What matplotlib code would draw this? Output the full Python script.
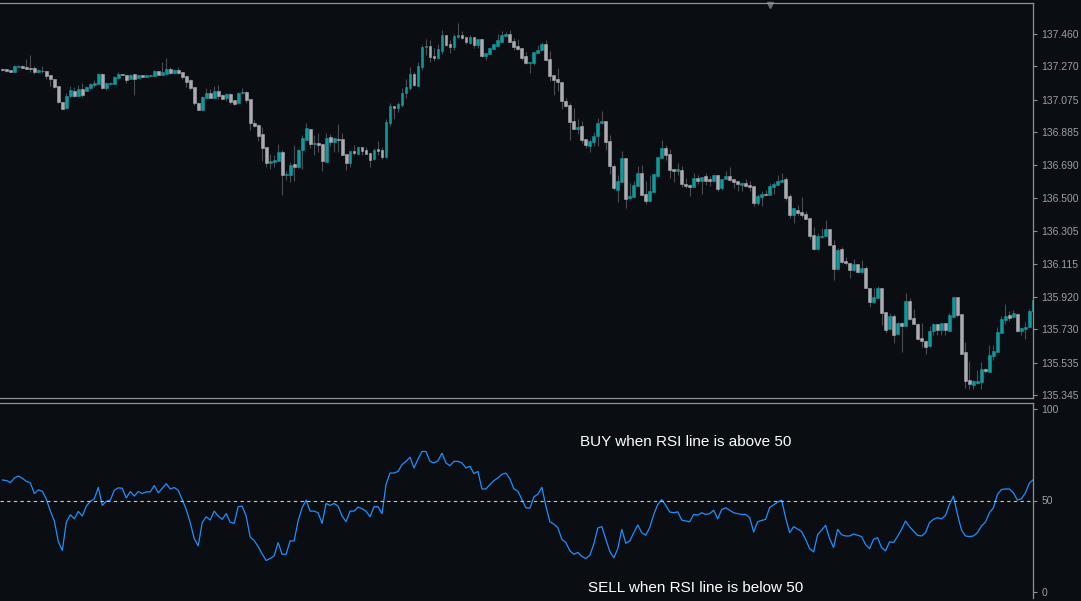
import numpy as np
import matplotlib
matplotlib.use("Agg")
import matplotlib.pyplot as plt

# USDJPY-like M5 candles
opens = [
    137.255, 137.255, 137.249, 137.239, 137.269, 137.273, 137.267, 137.259, 137.261, 137.234,
    137.245, 137.243, 137.220, 137.196, 137.155, 137.062, 137.026, 137.097, 137.128, 137.097,
    137.138, 137.128, 137.144, 137.161, 137.167, 137.226, 137.144, 137.169, 137.169, 137.202,
    137.226, 137.220, 137.196, 137.226, 137.204, 137.220, 137.210, 137.214, 137.216, 137.243,
    137.222, 137.226, 137.255, 137.232, 137.249, 137.237, 137.214, 137.191, 137.149, 137.056,
    137.017, 137.087, 137.114, 137.087, 137.128, 137.103, 137.085, 137.109, 137.070, 137.056,
    137.111, 137.120, 137.079, 136.939, 136.927, 136.874, 136.798, 136.706, 136.710, 136.716,
    136.769, 136.636, 136.636, 136.698, 136.681, 136.780, 136.839, 136.904, 136.818, 136.821,
    136.816, 136.710, 136.857, 136.829, 136.845, 136.845, 136.757, 136.706, 136.775, 136.759,
    136.798, 136.780, 136.763, 136.728, 136.788, 136.780, 136.741, 136.941, 137.038, 137.028,
    137.044, 137.114, 137.144, 137.226, 137.155, 137.267, 137.384, 137.390, 137.331, 137.319,
    137.360, 137.454, 137.401, 137.384, 137.442, 137.454, 137.442, 137.407, 137.442, 137.396,
    137.431, 137.331, 137.343, 137.372, 137.390, 137.413, 137.448, 137.460, 137.419, 137.390,
    137.378, 137.331, 137.292, 137.288, 137.349, 137.366, 137.401, 137.314, 137.220, 137.196,
    137.179, 137.068, 137.044, 136.950, 136.904, 136.921, 136.845, 136.804, 136.827, 136.862,
    136.939, 136.950, 136.833, 136.687, 136.546, 136.593, 136.734, 136.499, 136.505, 136.570,
    136.646, 136.523, 136.482, 136.534, 136.628, 136.734, 136.792, 136.757, 136.669, 136.657,
    136.663, 136.581, 136.577, 136.564, 136.616, 136.599, 136.628, 136.611, 136.599, 136.634,
    136.558, 136.611, 136.628, 136.611, 136.599, 136.575, 136.587, 136.575, 136.570, 136.470,
    136.505, 136.523, 136.517, 136.564, 136.575, 136.595, 136.611, 136.511, 136.402, 136.429,
    136.417, 136.405, 136.382, 136.283, 136.200, 136.269, 136.277, 136.318, 136.226, 136.083,
    136.200, 136.130, 136.119, 136.078, 136.113, 136.066, 136.089, 135.972, 135.890, 135.915,
    135.972, 135.831, 135.732, 135.808, 135.703, 135.767, 135.749, 135.896, 135.796, 135.763,
    135.679, 135.664, 135.632, 135.718, 135.761, 135.726, 135.767, 135.720, 135.804, 135.919,
    135.820, 135.598, 135.433, 135.406, 135.417, 135.423, 135.500, 135.482, 135.574, 135.599,
    135.710, 135.785, 135.814, 135.804, 135.822, 135.720, 135.732, 135.744, 135.837,
]
closes = [
    137.249, 137.245, 137.239, 137.273, 137.273, 137.263, 137.257, 137.257, 137.234, 137.249,
    137.241, 137.216, 137.193, 137.151, 137.064, 137.023, 137.097, 137.132, 137.097, 137.138,
    137.105, 137.149, 137.167, 137.175, 137.226, 137.144, 137.173, 137.175, 137.208, 137.226,
    137.220, 137.191, 137.220, 137.196, 137.220, 137.210, 137.220, 137.220, 137.243, 137.220,
    137.234, 137.255, 137.232, 137.249, 137.232, 137.210, 137.179, 137.144, 137.058, 137.017,
    137.091, 137.114, 137.087, 137.128, 137.097, 137.081, 137.109, 137.064, 137.052, 137.114,
    137.122, 137.075, 136.941, 136.921, 136.864, 136.794, 136.706, 136.716, 136.722, 136.769,
    136.636, 136.640, 136.693, 136.681, 136.780, 136.851, 136.909, 136.818, 136.821, 136.810,
    136.716, 136.851, 136.829, 136.851, 136.841, 136.753, 136.706, 136.775, 136.765, 136.798,
    136.776, 136.759, 136.722, 136.780, 136.776, 136.741, 136.946, 137.038, 137.028, 137.050,
    137.114, 137.149, 137.226, 137.161, 137.273, 137.384, 137.390, 137.327, 137.319, 137.372,
    137.454, 137.396, 137.384, 137.448, 137.454, 137.437, 137.413, 137.442, 137.396, 137.431,
    137.331, 137.349, 137.378, 137.401, 137.425, 137.454, 137.460, 137.413, 137.384, 137.372,
    137.319, 137.290, 137.296, 137.354, 137.366, 137.401, 137.308, 137.216, 137.191, 137.179,
    137.068, 137.038, 136.944, 136.904, 136.915, 136.839, 136.810, 136.833, 136.862, 136.939,
    136.950, 136.827, 136.687, 136.558, 136.599, 136.734, 136.493, 136.511, 136.575, 136.646,
    136.517, 136.482, 136.540, 136.640, 136.739, 136.792, 136.751, 136.663, 136.657, 136.669,
    136.581, 136.570, 136.566, 136.616, 136.599, 136.622, 136.599, 136.599, 136.634, 136.552,
    136.611, 136.628, 136.605, 136.593, 136.581, 136.587, 136.570, 136.566, 136.470, 136.511,
    136.523, 136.517, 136.570, 136.581, 136.599, 136.605, 136.497, 136.400, 136.441, 136.413,
    136.402, 136.378, 136.277, 136.200, 136.277, 136.277, 136.318, 136.224, 136.083, 136.195,
    136.124, 136.119, 136.078, 136.113, 136.066, 136.089, 135.972, 135.892, 135.919, 135.972,
    135.828, 135.726, 135.808, 135.697, 135.767, 135.749, 135.896, 135.790, 135.761, 135.673,
    135.662, 135.626, 135.720, 135.761, 135.726, 135.767, 135.726, 135.816, 135.919, 135.814,
    135.585, 135.429, 135.412, 135.429, 135.429, 135.500, 135.488, 135.580, 135.603, 135.714,
    135.790, 135.808, 135.798, 135.828, 135.720, 135.738, 135.744, 135.837, 135.902,
]
highs = [
    137.259, 137.257, 137.251, 137.275, 137.278, 137.276, 137.314, 137.337, 137.273, 137.253,
    137.273, 137.245, 137.222, 137.198, 137.157, 137.064, 137.112, 137.155, 137.151, 137.161,
    137.173, 137.153, 137.171, 137.191, 137.230, 137.230, 137.177, 137.181, 137.214, 137.234,
    137.228, 137.222, 137.224, 137.228, 137.222, 137.222, 137.222, 137.222, 137.249, 137.245,
    137.296, 137.319, 137.265, 137.255, 137.267, 137.239, 137.216, 137.194, 137.151, 137.060,
    137.095, 137.144, 137.138, 137.155, 137.161, 137.109, 137.116, 137.112, 137.073, 137.118,
    137.144, 137.124, 137.081, 136.956, 136.931, 136.913, 136.800, 136.755, 136.751, 136.814,
    136.780, 136.659, 136.712, 136.810, 136.784, 136.866, 136.939, 136.905, 136.868, 136.878,
    136.818, 136.882, 136.874, 136.853, 136.933, 136.878, 136.759, 136.776, 136.808, 136.806,
    136.800, 136.800, 136.765, 136.792, 136.833, 136.800, 136.960, 137.054, 137.040, 137.064,
    137.142, 137.194, 137.265, 137.235, 137.294, 137.396, 137.431, 137.425, 137.376, 137.401,
    137.483, 137.456, 137.425, 137.460, 137.524, 137.478, 137.444, 137.454, 137.444, 137.433,
    137.433, 137.351, 137.380, 137.403, 137.460, 137.478, 137.472, 137.483, 137.435, 137.431,
    137.380, 137.354, 137.298, 137.356, 137.396, 137.415, 137.425, 137.360, 137.222, 137.261,
    137.181, 137.083, 137.058, 137.026, 136.962, 136.950, 136.847, 136.847, 136.886, 136.968,
    137.009, 136.952, 136.868, 136.698, 136.634, 136.775, 136.736, 136.589, 136.599, 136.689,
    136.695, 136.599, 136.634, 136.642, 136.741, 136.839, 136.810, 136.786, 136.671, 136.706,
    136.687, 136.616, 136.579, 136.646, 136.634, 136.624, 136.646, 136.628, 136.640, 136.636,
    136.613, 136.657, 136.681, 136.613, 136.601, 136.595, 136.611, 136.597, 136.572, 136.523,
    136.540, 136.546, 136.587, 136.593, 136.634, 136.644, 136.624, 136.523, 136.443, 136.458,
    136.507, 136.425, 136.384, 136.331, 136.292, 136.324, 136.370, 136.320, 136.253, 136.204,
    136.210, 136.156, 136.120, 136.140, 136.115, 136.136, 136.101, 135.974, 135.970, 135.986,
    135.974, 135.833, 135.824, 135.818, 135.771, 135.771, 135.941, 135.911, 135.851, 135.765,
    135.767, 135.665, 135.749, 135.765, 135.763, 135.769, 135.769, 135.824, 135.919, 135.921,
    135.822, 135.656, 135.544, 135.431, 135.492, 135.541, 135.501, 135.640, 135.638, 135.745,
    135.806, 135.878, 135.837, 135.843, 135.824, 135.740, 135.775, 135.847, 135.911,
]
lows = [
    137.245, 137.239, 137.237, 137.237, 137.267, 137.261, 137.253, 137.239, 137.224, 137.230,
    137.230, 137.198, 137.157, 137.146, 137.054, 137.019, 137.023, 137.093, 137.093, 137.093,
    137.093, 137.124, 137.136, 137.151, 137.165, 137.138, 137.132, 137.167, 137.167, 137.200,
    137.218, 137.175, 137.194, 137.105, 137.202, 137.208, 137.208, 137.210, 137.214, 137.218,
    137.220, 137.224, 137.224, 137.226, 137.228, 137.194, 137.151, 137.132, 137.046, 137.015,
    137.015, 137.085, 137.083, 137.085, 137.079, 137.077, 137.068, 137.048, 137.046, 137.052,
    137.109, 137.058, 136.898, 136.917, 136.835, 136.716, 136.683, 136.671, 136.683, 136.714,
    136.519, 136.605, 136.595, 136.599, 136.673, 136.671, 136.837, 136.794, 136.753, 136.767,
    136.659, 136.708, 136.806, 136.771, 136.771, 136.751, 136.663, 136.683, 136.753, 136.757,
    136.751, 136.757, 136.683, 136.722, 136.751, 136.726, 136.739, 136.923, 136.962, 137.005,
    137.030, 137.087, 137.134, 137.155, 137.153, 137.249, 137.337, 137.296, 137.304, 137.314,
    137.343, 137.390, 137.351, 137.366, 137.437, 137.431, 137.401, 137.401, 137.378, 137.378,
    137.327, 137.308, 137.341, 137.370, 137.388, 137.411, 137.446, 137.411, 137.366, 137.366,
    137.308, 137.284, 137.232, 137.278, 137.347, 137.364, 137.302, 137.185, 137.105, 137.126,
    137.021, 137.034, 136.839, 136.902, 136.874, 136.823, 136.790, 136.771, 136.806, 136.806,
    136.933, 136.778, 136.640, 136.546, 136.475, 136.591, 136.443, 136.488, 136.503, 136.568,
    136.515, 136.464, 136.480, 136.533, 136.620, 136.732, 136.722, 136.616, 136.595, 136.636,
    136.566, 136.560, 136.511, 136.562, 136.581, 136.523, 136.575, 136.570, 136.597, 136.542,
    136.546, 136.609, 136.599, 136.560, 136.540, 136.540, 136.562, 136.542, 136.454, 136.458,
    136.452, 136.515, 136.515, 136.523, 136.573, 136.593, 136.488, 136.384, 136.351, 136.400,
    136.386, 136.374, 136.261, 136.197, 136.199, 136.267, 136.275, 136.218, 136.019, 136.081,
    136.116, 136.107, 136.029, 136.072, 136.058, 136.058, 135.970, 135.863, 135.882, 135.914,
    135.755, 135.706, 135.730, 135.652, 135.701, 135.599, 135.748, 135.785, 135.759, 135.667,
    135.626, 135.587, 135.628, 135.697, 135.697, 135.697, 135.697, 135.718, 135.802, 135.804,
    135.583, 135.388, 135.382, 135.382, 135.408, 135.378, 135.476, 135.480, 135.550, 135.598,
    135.709, 135.761, 135.781, 135.796, 135.712, 135.697, 135.673, 135.742, 135.835,
]
rsi = [
    61.2, 60.9, 59.8, 62.3, 63.4, 62.1, 60.5, 59.6, 53.8, 55.8,
    55.1, 50.7, 44.2, 38.8, 27.4, 22.8, 38.2, 42.2, 40.0, 44.0,
    41.5, 46.9, 49.6, 50.9, 57.2, 47.3, 49.6, 50.2, 55.6, 56.9,
    56.7, 51.4, 54.9, 52.4, 54.9, 53.8, 54.7, 54.7, 58.2, 54.2,
    56.7, 59.2, 56.3, 57.1, 55.6, 50.5, 45.1, 37.9, 29.2, 25.2,
    37.9, 41.1, 39.3, 44.2, 41.5, 39.7, 42.8, 38.2, 37.5, 46.6,
    46.9, 41.5, 30.1, 28.1, 24.8, 20.8, 17.2, 18.3, 19.7, 27.0,
    20.6, 20.6, 27.9, 27.9, 38.8, 46.0, 50.2, 44.2, 44.2, 43.3,
    37.5, 48.4, 47.3, 48.4, 46.9, 41.5, 38.4, 44.2, 44.2, 46.4,
    45.5, 44.2, 41.1, 46.6, 46.6, 42.8, 58.7, 65.0, 65.0, 65.9,
    69.6, 71.4, 73.7, 67.8, 72.6, 76.8, 76.8, 71.4, 70.5, 71.7,
    75.9, 70.5, 69.0, 71.4, 71.4, 70.5, 67.8, 68.7, 64.7, 65.9,
    56.3, 56.3, 58.7, 60.9, 62.3, 64.3, 65.0, 61.8, 56.3, 55.1,
    50.5, 46.0, 45.8, 52.0, 53.4, 57.2, 46.9, 38.4, 37.1, 35.1,
    28.8, 27.0, 22.5, 20.6, 21.6, 19.4, 18.3, 20.1, 26.1, 35.0,
    35.7, 28.8, 22.1, 18.7, 23.7, 34.2, 26.6, 27.9, 32.4, 36.6,
    32.4, 31.0, 35.3, 42.4, 47.8, 50.5, 47.3, 43.7, 43.3, 43.8,
    39.3, 38.8, 38.4, 42.4, 42.0, 43.3, 42.4, 42.8, 44.7, 40.0,
    45.1, 46.0, 44.7, 43.3, 42.8, 42.4, 42.4, 40.6, 32.8, 38.4,
    39.1, 39.7, 46.2, 47.6, 49.1, 50.2, 40.6, 32.4, 35.7, 34.4,
    33.0, 28.8, 23.7, 21.9, 31.3, 33.9, 36.4, 29.2, 24.3, 34.2,
    31.3, 30.6, 30.6, 31.7, 31.0, 30.3, 25.9, 23.7, 28.8, 29.7,
    24.3, 22.5, 27.4, 27.0, 30.3, 34.2, 38.8, 35.7, 33.3, 31.0,
    30.6, 32.4, 37.9, 39.7, 40.6, 40.0, 41.8, 47.8, 52.4, 42.4,
    33.9, 30.6, 30.3, 30.6, 32.4, 36.0, 38.2, 43.3, 46.0, 53.3,
    56.0, 56.3, 56.3, 54.2, 50.2, 50.9, 54.2, 59.6, 61.4,
]
price_ticks = [135.345, 135.535, 135.730, 135.920, 136.115, 136.305,
               136.500, 136.690, 136.885, 137.075, 137.270, 137.460]
rsi_ticks = [0, 50, 100]
rsi_level = 50
buy_text = "BUY when RSI line is above 50"
sell_text = "SELL when RSI line is below 50"

bg = "#0a0d11"
bull = "#10989b"
bear = "#aaabb1"
wick = "#4a4c52"
frame = "#8e9196"
label_col = "#9aa0a8"

o = np.array(opens)
c = np.array(closes)
x = np.arange(len(o))

fig = plt.figure(figsize=(10.81, 6.01), dpi=100, facecolor=bg)
W, H = 1081.0, 601.0
ax = fig.add_axes([0, 1 - 398 / H, 1033 / W, 395 / H], facecolor=bg)
ax2 = fig.add_axes([0, 1 - 598 / H, 1033 / W, 195 / H], facecolor=bg)

# candles
up = c >= o
ax.vlines(x, lows, highs, color=wick, linewidth=0.8, zorder=1)
ax.bar(x[up], (c - o)[up], bottom=o[up], width=0.72, color=bull,
       edgecolor=bull, linewidth=0.4, zorder=2)
ax.bar(x[~up], (c - o)[~up], bottom=o[~up], width=0.72, color=bear,
       edgecolor=bear, linewidth=0.4, zorder=2)
ax.set_xlim(-0.6, 257.9)
ax.set_ylim(135.3275, 137.641)
ax.plot([0.745], [0.995], marker="v", markersize=5, color="#6c6f74",
        transform=ax.transAxes, clip_on=False)

# RSI
ax2.plot(x, rsi, color="#1e8fff", linewidth=0.9)
ax2.axhline(rsi_level, color="#c8c8c8", linewidth=0.8, dashes=(3, 3))
ax2.set_xlim(-0.6, 257.9)
ax2.set_ylim(-3.3, 103.3)
ax2.text(0.664, 0.80, buy_text, transform=ax2.transAxes, color="white",
         fontsize=11, family="Liberation Sans", ha="center", va="center")
ax2.text(0.673, 0.05, sell_text, transform=ax2.transAxes, color="white",
         fontsize=11, family="Liberation Sans", ha="center", va="center")

for a, ticks, fmt in ((ax, price_ticks, "{:.3f}"), (ax2, rsi_ticks, "{:d}")):
    a.yaxis.tick_right()
    a.set_yticks(ticks)
    a.set_yticklabels([fmt.format(t) for t in ticks])
    a.set_xticks([])
    a.tick_params(axis="y", colors=frame, labelcolor=label_col, length=3,
                  width=0.8, pad=3, labelsize=7.5)
    for lab in a.get_yticklabels():
        lab.set_family("Liberation Sans")
    for s in ("top", "right", "bottom"):
        a.spines[s].set_color(frame)
        a.spines[s].set_linewidth(0.9)
    a.spines["left"].set_visible(False)
ax2.spines["bottom"].set_visible(False)

fig.savefig("out.png", dpi=100, facecolor=bg)
